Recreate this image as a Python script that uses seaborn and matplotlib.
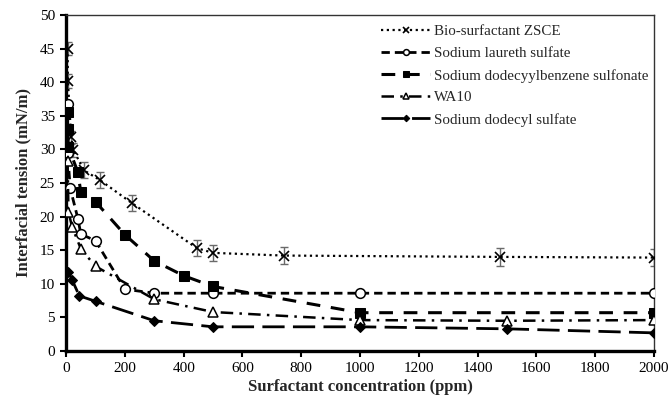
import matplotlib
matplotlib.use("Agg")
import matplotlib.pyplot as plt
import seaborn as sns
import numpy as np

# ---- data ----
zsce_x = [5, 6, 17, 25, 60, 116, 224, 445, 500, 740, 1475, 2000]
zsce_y = [45.0, 40.2, 31.8, 29.9, 26.9, 25.4, 22.0, 15.3, 14.6, 14.2, 14.0, 13.9]
zsce_err = [1.0, 1.0, 1.0, 1.0, 1.2, 1.2, 1.2, 1.2, 1.2, 1.3, 1.3, 1.3]

sles_x = [5, 5, 14, 40, 50, 100, 200, 300, 500, 1000, 2000]
sles_y = [36.7, 29.5, 24.2, 19.7, 17.4, 16.4, 9.2, 8.6, 8.6, 8.6, 8.6]

sdbs_x = [5, 5, 8, 40, 50, 100, 200, 300, 400, 500, 1000, 2000]
sdbs_y = [35.5, 33.0, 30.3, 26.6, 23.6, 22.2, 17.3, 13.4, 11.2, 9.6, 5.7, 5.7]

wa10_x = [5, 8, 20, 50, 100, 300, 500, 1000, 1500, 2000]
wa10_y = [28.2, 20.7, 18.5, 15.2, 12.6, 7.7, 5.8, 4.6, 4.5, 4.6]

sds_x = [8, 20, 45, 100, 300, 500, 1000, 1500, 2000]
sds_y = [11.8, 10.6, 8.2, 7.4, 4.5, 3.6, 3.6, 3.3, 2.7]

labels = ["Bio-surfactant ZSCE", "Sodium laureth sulfate",
          "Sodium dodecyylbenzene sulfonate", "WA10", "Sodium dodecyl sulfate"]
x_ticks = list(range(0, 2001, 200))
y_ticks = list(range(0, 51, 5))

sns.set_theme(style="ticks")
plt.rcParams['font.family'] = ['Liberation Serif', 'DejaVu Serif']

fig = plt.figure(figsize=(6.68, 4.03), dpi=100)
ax = fig.add_axes([0.099, 0.129, 0.880, 0.834])

# error bars for ZSCE (gray)
ax.errorbar(zsce_x, zsce_y, yerr=zsce_err, fmt='none', ecolor='#6a6a6a',
            elinewidth=1.0, capsize=3, capthick=1.0, zorder=2)

common = dict(ax=ax, estimator=None, sort=False, color='black', zorder=3)
sns.lineplot(x=zsce_x, y=zsce_y, linestyle=(0, (1, 1.6)), linewidth=1.6,
             marker='x', markersize=7, markeredgewidth=1.2, markeredgecolor='black',
             label=labels[0], **common)
sns.lineplot(x=sles_x, y=sles_y, linestyle=(0, (3, 1.8)), linewidth=2.0,
             marker='o', markersize=7, markerfacecolor='white', markeredgecolor='black',
             markeredgewidth=1.1, label=labels[1], **common)
sns.lineplot(x=sdbs_x, y=sdbs_y, linestyle=(0, (4.5, 3.5)), linewidth=2.2,
             marker='s', markersize=6.5, markerfacecolor='black', markeredgecolor='black',
             label=labels[2], **common)
sns.lineplot(x=wa10_x, y=wa10_y, linestyle=(0, (5, 2.5, 1, 2.5)), linewidth=1.8,
             marker='^', markersize=7, markerfacecolor='white', markeredgecolor='black',
             markeredgewidth=1.1, label=labels[3], **common)
sns.lineplot(x=sds_x, y=sds_y, linestyle=(0, (8, 3)), linewidth=2.0,
             marker='D', markersize=5.5, markerfacecolor='black', markeredgecolor='black',
             label=labels[4], **common)

ax.set_xlim(0, 2000)
ax.set_ylim(0, 50)
ax.set_xticks(x_ticks)
ax.set_yticks(y_ticks)
ax.tick_params(axis='both', labelsize=11, direction='out', length=4, width=1.5,
               colors='black', pad=4)
for lab in ax.get_xticklabels() + ax.get_yticklabels():
    lab.set_color('black')

ax.set_xlabel("Surfactant concentration (ppm)", fontsize=12, fontweight='bold', labelpad=3)
ax.set_ylabel("Interfacial tension (mN/m)", fontsize=12, fontweight='bold', labelpad=6)

for side in ['left', 'bottom']:
    ax.spines[side].set_linewidth(2.4)
    ax.spines[side].set_color('black')
for side in ['top', 'right']:
    ax.spines[side].set_linewidth(1.0)
    ax.spines[side].set_color('#333333')

leg = ax.legend(loc='upper left', bbox_to_anchor=(0.52, 0.997), frameon=False,
                fontsize=10.8, handlelength=3.3, handletextpad=0.25, labelspacing=0.56,
                borderaxespad=0.2, markerscale=0.6)

fig.savefig("out.png", dpi=100)
